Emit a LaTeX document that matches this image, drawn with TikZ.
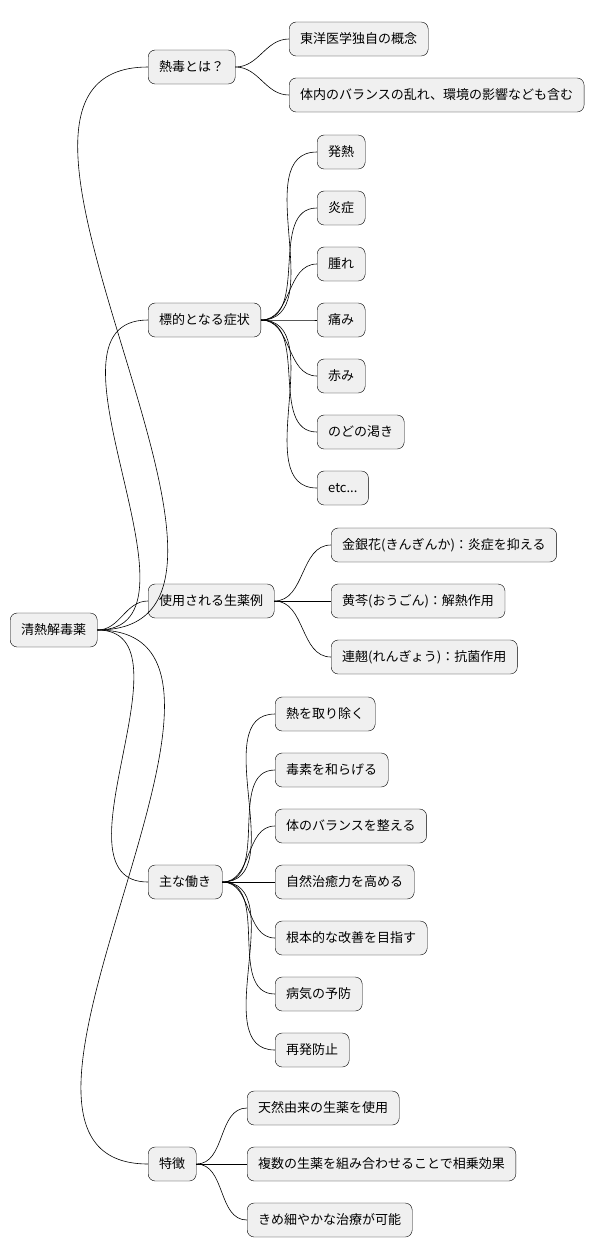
\documentclass[tikz,border=0pt]{standalone}
\usepackage{fontspec}
\setmainfont{Noto Sans CJK JP}
\begin{document}
\begin{tikzpicture}[x=1pt,y=-1pt,
  box/.style={shape=rectangle,draw=black,rounded corners=7pt,fill=black!6,anchor=west,
    minimum height=34pt,inner xsep=11pt,font=\fontsize{13pt}{15pt}\selectfont},
  link/.style={draw=black,line width=0.6pt}]
  \useasboundingbox (0,0) rectangle (614,1259);
  \node[box] (root) at (10,630) {清熱解毒薬};

  \node[box] (a) at (148,67) {熱毒とは？};
  \node[box] (b) at (148,320) {標的となる症状};
  \node[box] (c) at (148,601) {使用される生薬例};
  \node[box] (d) at (148,882) {主な働き};
  \node[box] (e) at (148,1164) {特徴};

  \node[box] (a1) at (289,39) {東洋医学独自の概念};
  \node[box] (a2) at (289,95) {体内のバランスの乱れ、環境の影響なども含む};

  \node[box] (b1) at (317,152) {発熱};
  \node[box] (b2) at (317,208) {炎症};
  \node[box] (b3) at (317,264) {腫れ};
  \node[box] (b4) at (317,320) {痛み};
  \node[box] (b5) at (317,376) {赤み};
  \node[box] (b6) at (317,432) {のどの渇き};
  \node[box] (b7) at (317,488) {etc...};

  \node[box] (c1) at (331,545) {金銀花(きんぎんか)：炎症を抑える};
  \node[box] (c2) at (331,601) {黄芩(おうごん)：解熱作用};
  \node[box] (c3) at (331,657) {連翹(れんぎょう)：抗菌作用};

  \node[box] (d1) at (275,714) {熱を取り除く};
  \node[box] (d2) at (275,770) {毒素を和らげる};
  \node[box] (d3) at (275,826) {体のバランスを整える};
  \node[box] (d4) at (275,882) {自然治癒力を高める};
  \node[box] (d5) at (275,938) {根本的な改善を目指す};
  \node[box] (d6) at (275,994) {病気の予防};
  \node[box] (d7) at (275,1050) {再発防止};

  \node[box] (e1) at (247,1108) {天然由来の生薬を使用};
  \node[box] (e2) at (247,1164) {複数の生薬を組み合わせることで相乗効果};
  \node[box] (e3) at (247,1220) {きめ細やかな治療が可能};

  \foreach \p/\c in {root/a,root/b,root/c,root/d,root/e,a/a1,a/a2,
      b/b1,b/b2,b/b3,b/b4,b/b5,b/b6,b/b7,c/c1,c/c2,c/c3,
      d/d1,d/d2,d/d3,d/d4,d/d5,d/d6,d/d7,e/e1,e/e2,e/e3}
    \draw[link] (\p.east) to[out=0,in=180] (\c.west);
\end{tikzpicture}
\end{document}
